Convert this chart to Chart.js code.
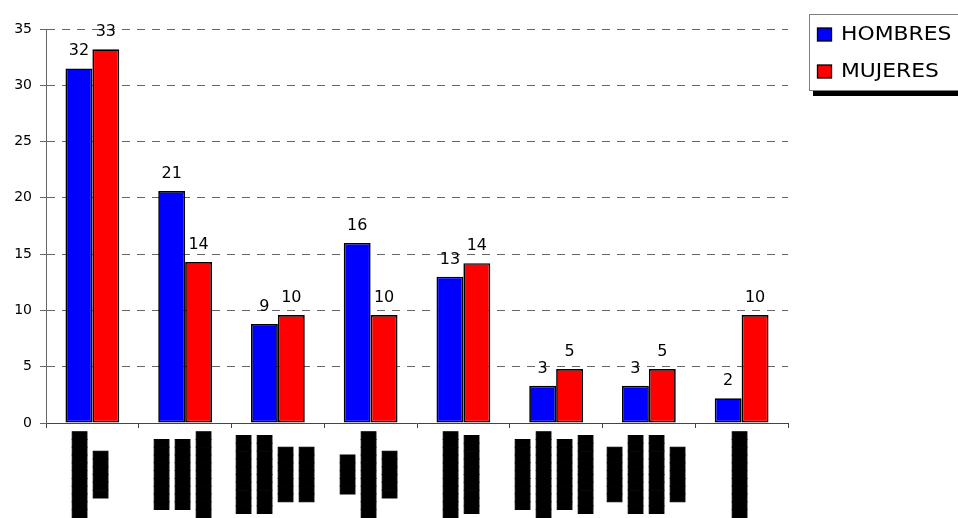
<!DOCTYPE html>
<html>
<head>
<meta charset="utf-8">
<script src="https://cdn.jsdelivr.net/npm/chart.js@4.4.1/dist/chart.umd.min.js"></script>
<style>
  html, body { margin: 0; padding: 0; background: #fff; }
  canvas { display: block; }
</style>
</head>
<body>
<canvas id="chart" width="958" height="518"></canvas>
<script>
// Categorías (en el original las etiquetas aparecen tachadas con bloques negros)
const categorias = [
  ['███████████', '██████'],
  ['█████████', '█████████', '███████████'],
  ['██████████', '██████████', '███████', '███████'],
  ['█████', '███████████', '██████'],
  ['███████████', '██████████'],
  ['█████████', '███████████', '█████████', '██████████'],
  ['███████', '██████████', '██████████', '███████'],
  ['███████████']
];
const hombres = [31.5, 20.6, 8.8, 16.0, 13.0, 3.3, 3.3, 2.2];
const mujeres = [33.2, 14.3, 9.6, 9.6, 14.2, 4.8, 4.8, 9.6];
const ticksY = [0, 5, 10, 15, 20, 25, 30, 35];

const FONT = '"DejaVu Sans", sans-serif';
const GRIS = '#666';

// Valores redondeados encima de cada barra
const valueLabels = {
  id: 'valueLabels',
  afterDatasetsDraw(chart) {
    const ctx = chart.ctx;
    ctx.save();
    ctx.font = '16px ' + FONT;
    ctx.fillStyle = '#000';
    ctx.textAlign = 'center';
    ctx.textBaseline = 'alphabetic';
    chart.data.datasets.forEach((ds, i) => {
      chart.getDatasetMeta(i).data.forEach((bar, j) => {
        ctx.fillText(String(Math.round(ds.data[j])), bar.x, bar.y - 13);
      });
    });
    ctx.restore();
  }
};

// Etiquetas del eje X: texto girado 90°, líneas centradas
const xLabels = {
  id: 'xLabels',
  afterDraw(chart) {
    const ctx = chart.ctx;
    const x = chart.scales.x;
    ctx.save();
    ctx.font = '13px "Liberation Mono", monospace';
    const m = ctx.measureText('█');
    const shift = (m.actualBoundingBoxAscent - m.actualBoundingBoxDescent) / 2;
    ctx.fillStyle = '#000';
    ctx.strokeStyle = '#000';
    ctx.lineWidth = 1;
    ctx.textAlign = 'center';
    ctx.textBaseline = 'alphabetic';
    chart.data.labels.forEach((lines, i) => {
      ctx.save();
      ctx.translate(x.getPixelForValue(i) - 2.5, 474.5);
      ctx.rotate(-Math.PI / 2);
      lines.forEach((line, k) => {
        const y = (k - (lines.length - 1) / 2) * 21 + shift;
        ctx.fillText(line, 0, y);
        ctx.strokeText(line, 0, y);
      });
      ctx.restore();
    });
    ctx.restore();
  }
};

// Leyenda con marco gris y sombra negra
const legendBox = {
  id: 'legendBox',
  afterDraw(chart) {
    const ctx = chart.ctx;
    ctx.save();
    ctx.fillStyle = '#000';
    ctx.fillRect(813, 20, 150, 76);
    ctx.fillStyle = '#fff';
    ctx.fillRect(809, 14, 152, 76);
    ctx.strokeStyle = '#808080';
    ctx.lineWidth = 1;
    ctx.strokeRect(809.5, 14.5, 152, 76);
    ctx.textBaseline = 'middle';
    ctx.textAlign = 'left';
    chart.data.datasets.forEach((ds, i) => {
      const cy = 34.5 + i * 37;
      ctx.fillStyle = ds.backgroundColor;
      ctx.fillRect(817.5, cy - 6.5, 14, 13);
      ctx.strokeStyle = '#000';
      ctx.lineWidth = 1.3;
      ctx.strokeRect(817.5, cy - 6.5, 14, 13);
      ctx.save();
      ctx.translate(841, cy + 1);
      ctx.scale(1.15, 1);
      ctx.font = '19px ' + FONT;
      ctx.fillStyle = '#000';
      ctx.fillText(ds.label, 0, 0);
      ctx.restore();
    });
    ctx.restore();
  }
};

new Chart(document.getElementById('chart'), {
  type: 'bar',
  data: {
    labels: categorias,
    datasets: [
      {
        label: 'HOMBRES',
        data: hombres,
        backgroundColor: '#0000FF',
        borderColor: '#000',
        borderWidth: 1.7,
        borderSkipped: false,
        barPercentage: 1,
        categoryPercentage: 0.58
      },
      {
        label: 'MUJERES',
        data: mujeres,
        backgroundColor: '#FF0000',
        borderColor: '#000',
        borderWidth: 1.7,
        borderSkipped: false,
        barPercentage: 1,
        categoryPercentage: 0.58
      }
    ]
  },
  options: {
    responsive: false,
    animation: false,
    layout: { padding: { top: 29, right: 170, left: 0, bottom: 0 } },
    scales: {
      x: {
        afterFit(scale) { scale.height = 95; },
        ticks: { display: false },
        grid: {
          drawOnChartArea: false,
          tickLength: 5,
          tickColor: '#444',
          offset: true
        },
        border: { color: '#444', width: 1 }
      },
      y: {
        min: 0,
        max: 35,
        afterFit(scale) { scale.width = 46; },
        afterBuildTicks(scale) { scale.ticks = ticksY.map(v => ({ value: v })); },
        ticks: {
          font: { family: FONT, size: 14 },
          color: '#000',
          padding: 8
        },
        grid: {
          color: GRIS,
          lineWidth: 1,
          tickLength: 6,
          tickColor: GRIS,
          tickBorderDash: []
        },
        border: { color: GRIS, width: 1, dash: [8, 7] }
      }
    },
    plugins: {
      legend: { display: false },
      tooltip: { enabled: false }
    }
  },
  plugins: [valueLabels, xLabels, legendBox]
});
</script>
</body>
</html>
